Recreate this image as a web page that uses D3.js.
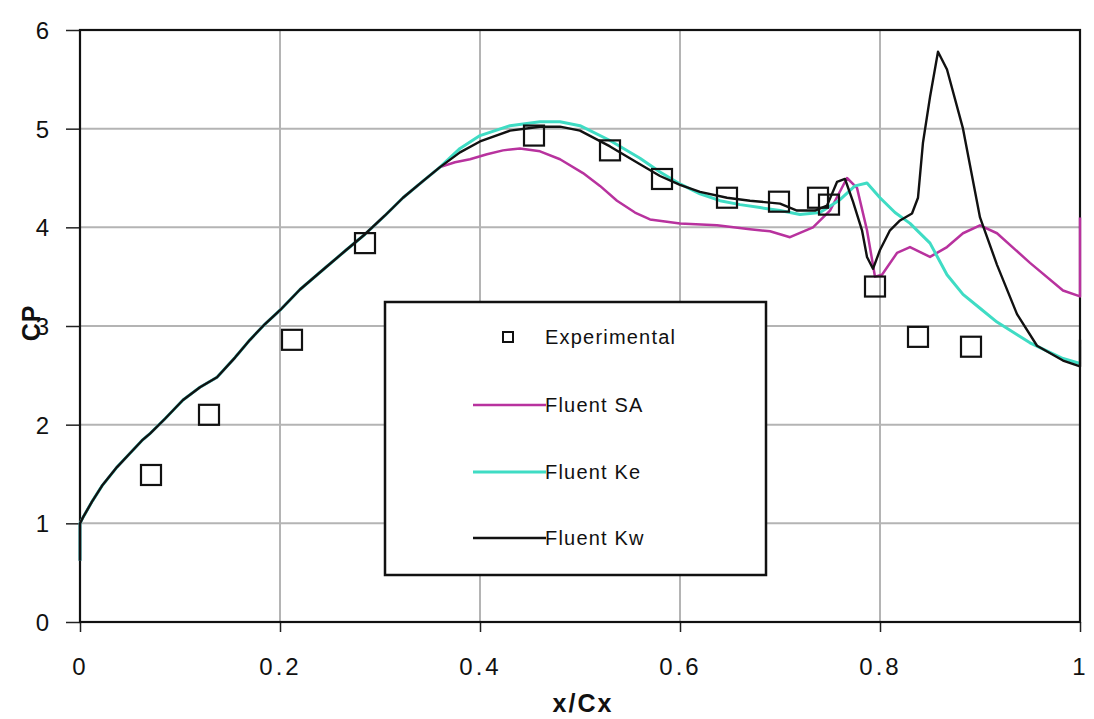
<!DOCTYPE html>
<html>
<head>
<meta charset="utf-8">
<script src="https://cdn.jsdelivr.net/npm/d3@7"></script>
<style>
  html, body { margin: 0; padding: 0; background: #ffffff; }
  svg { display: block; }
  text { font-family: "Liberation Sans", Arial, sans-serif; fill: #111; }
</style>
</head>
<body>
<svg id="chart" width="1094" height="719"></svg>
<script>
// Pressure coefficient along the blade chord: measurements and three turbulence models
const xTicks = [0, 0.2, 0.4, 0.6, 0.8, 1];
const xTickLabels = ["0", "0.2", "0.4", "0.6", "0.8", "1"];
const yTicks = [0, 1, 2, 3, 4, 5, 6];
const yTickLabels = ["0", "1", "2", "3", "4", "5", "6"];

const expX = [0.071, 0.129, 0.212, 0.285, 0.454, 0.530, 0.582, 0.647, 0.699, 0.738, 0.749, 0.795, 0.838, 0.891];
const expY = [1.49, 2.10, 2.86, 3.84, 4.93, 4.78, 4.49, 4.30, 4.26, 4.30, 4.23, 3.40, 2.89, 2.79];

// shared suction-side rise (all three models coincide here)
const riseX = [0, 0, 0.003, 0.012, 0.022, 0.037, 0.05, 0.062, 0.07, 0.085, 0.103, 0.12, 0.137, 0.155, 0.17, 0.185, 0.2, 0.22, 0.243, 0.265, 0.285, 0.305, 0.323, 0.342, 0.36];
const riseY = [0.62, 1.0, 1.06, 1.22, 1.38, 1.57, 1.71, 1.84, 1.91, 2.06, 2.25, 2.38, 2.48, 2.68, 2.86, 3.02, 3.16, 3.37, 3.57, 3.76, 3.93, 4.12, 4.30, 4.46, 4.61];

const kwX = [0.38, 0.40, 0.43, 0.46, 0.48, 0.50, 0.53, 0.56, 0.58, 0.60, 0.62, 0.647, 0.67, 0.70, 0.717, 0.735, 0.747, 0.757, 0.765, 0.773, 0.782, 0.787, 0.793, 0.80, 0.81, 0.82, 0.832, 0.838, 0.843, 0.85, 0.858, 0.867, 0.883, 0.90, 0.917, 0.937, 0.957, 0.983, 1.0, 1.0];
const kwY = [4.76, 4.87, 4.98, 5.02, 5.02, 4.98, 4.82, 4.64, 4.52, 4.43, 4.36, 4.30, 4.27, 4.24, 4.17, 4.17, 4.22, 4.46, 4.49, 4.26, 3.97, 3.70, 3.58, 3.77, 3.97, 4.07, 4.14, 4.30, 4.86, 5.32, 5.78, 5.60, 5.00, 4.10, 3.62, 3.12, 2.80, 2.65, 2.59, 2.86];

const keX = [0.38, 0.40, 0.43, 0.46, 0.48, 0.50, 0.53, 0.56, 0.58, 0.60, 0.62, 0.64, 0.66, 0.68, 0.70, 0.72, 0.74, 0.76, 0.775, 0.787, 0.80, 0.815, 0.83, 0.85, 0.867, 0.883, 0.90, 0.917, 0.95, 0.983, 1.0];
const keY = [4.80, 4.93, 5.03, 5.07, 5.07, 5.03, 4.88, 4.70, 4.56, 4.44, 4.34, 4.27, 4.23, 4.20, 4.17, 4.13, 4.15, 4.28, 4.42, 4.45, 4.30, 4.15, 4.04, 3.84, 3.52, 3.32, 3.18, 3.04, 2.83, 2.67, 2.62];

const saX = [0.375, 0.39, 0.407, 0.423, 0.44, 0.46, 0.48, 0.503, 0.52, 0.537, 0.555, 0.57, 0.60, 0.637, 0.67, 0.69, 0.71, 0.733, 0.75, 0.767, 0.777, 0.787, 0.795, 0.802, 0.817, 0.83, 0.85, 0.867, 0.883, 0.90, 0.917, 0.95, 0.983, 1.0, 1.0];
const saY = [4.66, 4.69, 4.74, 4.78, 4.80, 4.77, 4.69, 4.55, 4.42, 4.27, 4.15, 4.08, 4.04, 4.02, 3.98, 3.96, 3.90, 4.00, 4.17, 4.50, 4.40, 3.97, 3.50, 3.52, 3.74, 3.80, 3.70, 3.80, 3.94, 4.02, 3.94, 3.64, 3.36, 3.30, 4.10];

const seriesNames = ["Experimental", "Fluent SA", "Fluent Ke", "Fluent Kw"];
const seriesColors = { sa: "#b8329e", ke: "#3fdcc4", kw: "#111111" };

const svg = d3.select("#chart");
const margin = { left: 80, right: 1080, top: 30, bottom: 622 };

const x = d3.scaleLinear().domain([0, 1]).range([margin.left, margin.right]);
const y = d3.scaleLinear().domain([0, 6]).range([margin.bottom, margin.top]);

// grid
const grid = svg.append("g");
grid.selectAll("line.gx").data(xTicks.slice(1, -1)).join("line")
  .attr("x1", d => x(d)).attr("x2", d => x(d))
  .attr("y1", y(0)).attr("y2", y(6))
  .attr("stroke", "#b4b4b4").attr("stroke-width", 2);
grid.selectAll("line.gy").data(yTicks.slice(1, -1)).join("line")
  .attr("x1", x(0)).attr("x2", x(1))
  .attr("y1", d => y(d)).attr("y2", d => y(d))
  .attr("stroke", "#b4b4b4").attr("stroke-width", 2);

// axes
const xAxis = d3.axisBottom(x).tickValues(xTicks).tickFormat((d, i) => xTickLabels[i])
  .tickSize(10).tickPadding(26);
const yAxis = d3.axisLeft(y).tickValues(yTicks).tickFormat((d, i) => yTickLabels[i])
  .tickSize(14).tickPadding(14);

const gx = svg.append("g").attr("transform", `translate(0,${y(0)})`).call(xAxis);
const gy = svg.append("g").attr("transform", `translate(${x(0)},0)`).call(yAxis);
[gx, gy].forEach(g => {
  g.select(".domain").remove();
  g.selectAll(".tick line").attr("stroke", "#222").attr("stroke-width", 1.5);
  g.selectAll(".tick text")
    .style("font-family", "'Liberation Sans', Arial, sans-serif")
    .style("font-size", "24px").style("letter-spacing", "3px").attr("fill", "#111");
});
gy.selectAll(".tick text").attr("dy", "0.36em");

// frame
svg.append("rect")
  .attr("x", x(0)).attr("y", y(6))
  .attr("width", x(1) - x(0)).attr("height", y(0) - y(6))
  .attr("fill", "none").attr("stroke", "#111").attr("stroke-width", 2.2);

// curves
const line = d3.line().x(d => x(d[0])).y(d => y(d[1]));
const build = (xs, ys) => riseX.map((v, i) => [v, riseY[i]]).concat(xs.map((v, i) => [v, ys[i]]));

const curves = svg.append("g").attr("fill", "none").attr("stroke-linejoin", "round");
curves.append("path").datum(build(saX, saY)).attr("d", line)
  .attr("stroke", seriesColors.sa).attr("stroke-width", 2.5);
curves.append("path").datum(build(keX, keY)).attr("d", line)
  .attr("stroke", seriesColors.ke).attr("stroke-width", 3);
curves.append("path").datum(build(kwX, kwY)).attr("d", line)
  .attr("stroke", seriesColors.kw).attr("stroke-width", 2.4);

// measured points
svg.append("g").selectAll("rect").data(expX.map((v, i) => [v, expY[i]])).join("rect")
  .attr("x", d => x(d[0]) - 10).attr("y", d => y(d[1]) - 10)
  .attr("width", 20).attr("height", 20)
  .attr("fill", "none").attr("stroke", "#111").attr("stroke-width", 2.2);

// legend
const lg = svg.append("g");
lg.append("rect").attr("x", 385).attr("y", 302).attr("width", 381).attr("height", 273)
  .attr("fill", "#fff").attr("stroke", "#111").attr("stroke-width", 2.5);
const rowsY = [337, 405, 472, 538];
lg.append("rect").attr("x", 503).attr("y", rowsY[0] - 5).attr("width", 10).attr("height", 10)
  .attr("fill", "none").attr("stroke", "#111").attr("stroke-width", 2);
const legendLines = [null, seriesColors.sa, seriesColors.ke, seriesColors.kw];
legendLines.forEach((c, i) => {
  if (!c) return;
  lg.append("line").attr("x1", 473).attr("x2", 546)
    .attr("y1", rowsY[i]).attr("y2", rowsY[i])
    .attr("stroke", c).attr("stroke-width", i === 2 ? 3 : 2.4);
});
seriesNames.forEach((n, i) => {
  lg.append("text").attr("x", 545).attr("y", rowsY[i] + 7)
    .style("font-size", "20px").style("letter-spacing", "1.2px")
    .text(n);
});

// axis titles
svg.append("text").attr("x", 583).attr("y", 712).attr("text-anchor", "middle")
  .style("font-size", "25px").style("font-weight", "bold").style("letter-spacing", "2px")
  .text("x/Cx");
svg.append("text").attr("transform", "translate(40,323) rotate(-90)").attr("text-anchor", "middle")
  .style("font-size", "25px").style("font-weight", "bold").style("letter-spacing", "1px")
  .text("CP");
</script>
</body>
</html>
